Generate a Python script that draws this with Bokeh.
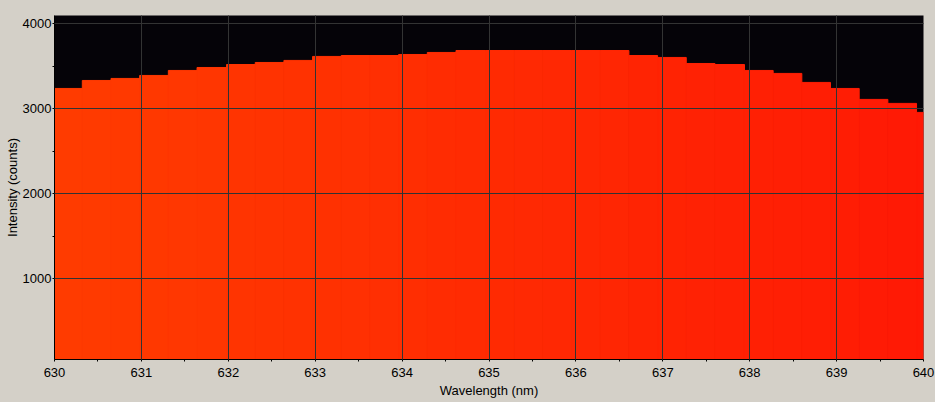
from bokeh.plotting import figure
from bokeh.models import Range1d, FixedTicker, ColumnDataSource
from bokeh.transform import linear_cmap
from bokeh.embed import file_html
from bokeh.resources import INLINE

# ---- data ----
bin_edges = [629.99, 630.32, 630.65, 630.98, 631.31, 631.64, 631.98, 632.31,
             632.64, 632.97, 633.30, 633.63, 633.96, 634.29, 634.62, 634.96,
             635.29, 635.62, 635.95, 636.28, 636.61, 636.94, 637.27, 637.60,
             637.94, 638.27, 638.60, 638.93, 639.26, 639.59, 639.92, 640.25]
intensity = [3239, 3333, 3357, 3392, 3451, 3486, 3521, 3545, 3569, 3616,
             3627, 3627, 3639, 3663, 3686, 3686, 3686, 3686, 3686, 3686,
             3627, 3604, 3533, 3521, 3451, 3416, 3310, 3239, 3110, 3063, 2957]
x_ticks = [630, 631, 632, 633, 634, 635, 636, 637, 638, 639, 640]
x_minor = [630.5, 631.5, 632.5, 633.5, 634.5, 635.5, 636.5, 637.5, 638.5, 639.5]
y_ticks = [1000, 2000, 3000, 4000]
y_minor = [1500, 2500, 3500]
x_label = "Wavelength (nm)"
y_label = "Intensity (counts)"

# ---- styles ----
BG = "#d4d0c8"
PLOT_BG = "#050308"
GRID = "#333333"
FONT = "Liberation Sans"


def _lerp(c1, c2, n):
    a = [int(c1[i:i + 2], 16) for i in (1, 3, 5)]
    b = [int(c2[i:i + 2], 16) for i in (1, 3, 5)]
    out = []
    for k in range(n):
        t = k / (n - 1)
        out.append("#%02x%02x%02x" % tuple(round(a[j] + (b[j] - a[j]) * t) for j in range(3)))
    return out


palette = _lerp("#ff3b00", "#ff1905", 256)

src = ColumnDataSource(dict(left=bin_edges[:-1], right=bin_edges[1:],
                            top=intensity, bottom=[0] * len(intensity)))

p = figure(width=935, height=402, output_backend="svg", toolbar_location=None,
           x_range=Range1d(630, 640), y_range=Range1d(47, 4098),
           background_fill_color=PLOT_BG, border_fill_color=BG,
           outline_line_color=None,
           min_border_left=54, min_border_right=12, min_border_top=15, min_border_bottom=43)

cmap = linear_cmap("left", palette, 630, 640)
p.quad(left="left", right="right", top="top", bottom="bottom", source=src,
       fill_color=cmap, line_color=cmap, line_width=1)

p.xaxis.ticker = FixedTicker(ticks=x_ticks, minor_ticks=x_minor)
p.yaxis.ticker = FixedTicker(ticks=y_ticks, minor_ticks=y_minor)
p.xgrid.ticker = FixedTicker(ticks=x_ticks)
p.ygrid.ticker = FixedTicker(ticks=y_ticks)

for g in (p.xgrid, p.ygrid):
    g.grid_line_color = GRID
    g.grid_line_width = 1
    g.level = "annotation"

p.xaxis.axis_label = x_label
p.yaxis.axis_label = y_label
for ax in (p.xaxis, p.yaxis):
    ax.axis_line_color = "black"
    ax.axis_line_width = 1
    ax.major_tick_line_color = "black"
    ax.minor_tick_line_color = "black"
    ax.major_tick_out = 2
    ax.major_tick_in = 0
    ax.minor_tick_out = 2
    ax.minor_tick_in = 0
    ax.major_label_text_font = FONT
    ax.major_label_text_font_size = "13px"
    ax.major_label_text_color = "black"
    ax.axis_label_text_font = FONT
    ax.axis_label_text_font_size = "13px"
    ax.axis_label_text_font_style = "normal"
    ax.axis_label_text_color = "black"
    ax.axis_label_standoff = 0
p.xaxis.major_label_standoff = 6
p.xaxis.axis_label_standoff = 3
p.yaxis.major_label_standoff = 1

html = file_html(p, INLINE, title="Spectrum")
html = html.replace("</head>", "<style>html,body{background:%s;}</style></head>" % BG, 1)
open("out.html", "w").write(html)
